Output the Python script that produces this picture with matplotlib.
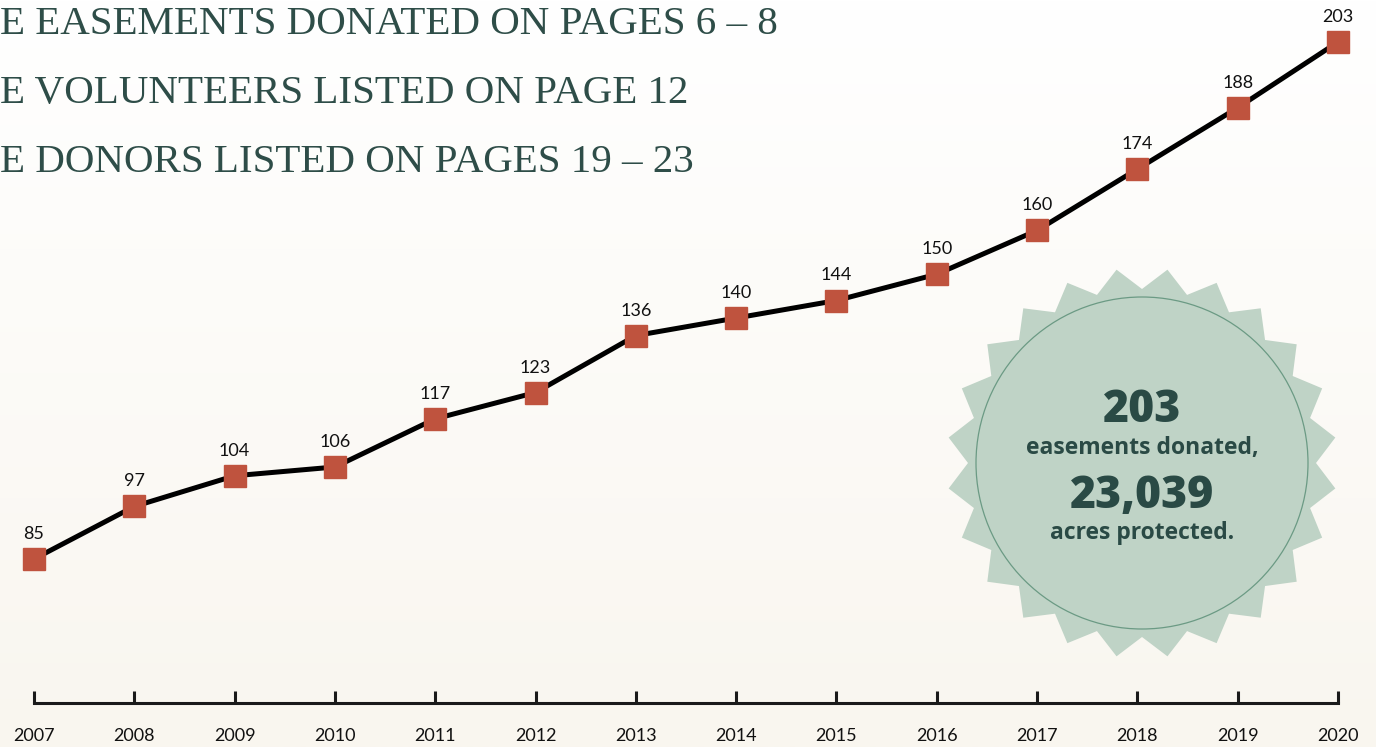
import numpy as np
import matplotlib
matplotlib.use("Agg")
import matplotlib.pyplot as plt
from matplotlib.patches import Polygon, Circle

years = [2007, 2008, 2009, 2010, 2011, 2012, 2013, 2014, 2015, 2016, 2017, 2018, 2019, 2020]
easements = [85, 97, 104, 106, 117, 123, 136, 140, 144, 150, 160, 174, 188, 203]
header_lines = ["E EASEMENTS DONATED ON PAGES 6 – 8",
                "E VOLUNTEERS LISTED ON PAGE 12",
                "E DONORS LISTED ON PAGES 19 – 23"]
badge_big1 = "203"
badge_small1 = "easements donated,"
badge_big2 = "23,039"
badge_small2 = "acres protected."

W, H = 1376, 747
fig = plt.figure(figsize=(W / 100, H / 100), dpi=100)

# background gradient
bg = fig.add_axes([0, 0, 1, 1])
bg.set_axis_off()
grad = np.linspace(0, 1, 256).reshape(-1, 1)
top = np.array([1.0, 1.0, 1.0])
bot = np.array([0xf9, 0xf6, 0xef]) / 255
img = top + (bot - top) * grad[..., None]
bg.imshow(img, aspect="auto", extent=[0, 1, 0, 1], origin="upper")
bg.set_xlim(0, 1)
bg.set_ylim(0, 1)

# main axes: bottom spine at y px 703
px_per_year = (1338 - 34) / 13
ax = fig.add_axes([0, (H - 703) / H, 1, 703 / H])
ax.patch.set_alpha(0)
ax.set_xlim(2007 - 34 / px_per_year, 2020 + (W - 1338) / px_per_year)
px_per_unit = (559 - 42) / (203 - 85)
ax.set_ylim(85 - (703 - 559) / px_per_unit, 85 + 559 / px_per_unit)

for s in ["top", "left", "right"]:
    ax.spines[s].set_visible(False)
ax.spines["bottom"].set_linewidth(2.2)
ax.spines["bottom"].set_color("#1a1a1a")
ax.spines["bottom"].set_bounds(years[0], years[-1])
ax.set_yticks([])
ax.set_xticks(years)
ax.set_xticklabels([str(y) for y in years], fontfamily="Lato", fontsize=13, color="#111111")
ax.tick_params(axis="x", direction="in", length=9, width=2.2, color="#1a1a1a", pad=18)

ax.plot(years, easements, color="black", lw=3.6, zorder=3, solid_capstyle="butt",
        marker="s", markersize=15.5, markerfacecolor="#bf533e", markeredgecolor="#bf533e")
for x, v in zip(years, easements):
    ax.annotate(str(v), (x, v), xytext=(0, 18), textcoords="offset points",
                ha="center", va="center", fontfamily="Lato", fontsize=13, color="#111111", zorder=4)

# header text
for i, line in enumerate(header_lines):
    fig.text(0, 1 - [24, 94, 163][i] / H, line, ha="left", va="center",
             fontfamily="Liberation Serif", fontsize=29.5, color="#2e4d48")

# badge (in pixel-based axes)
bx = fig.add_axes([0, 0, 1, 1])
bx.set_axis_off()
bx.patch.set_alpha(0)
bx.set_xlim(0, W)
bx.set_ylim(H, 0)
cx, cy = 1142, 463
n = 24
ro, ri = 195, 174
pts = []
for k in range(2 * n):
    ang = np.deg2rad(-90 + 7.5 + k * 180 / n)
    r = ro if k % 2 == 0 else ri
    pts.append((cx + r * np.cos(ang), cy + r * np.sin(ang)))
bx.add_patch(Polygon(pts, closed=True, facecolor="#bfd3c6", edgecolor="none"))
bx.add_patch(Circle((cx, cy), 166, facecolor="none", edgecolor="#6b9a84", lw=0.9))
tc = "#2a4a45"
bx.text(cx, 410, badge_big1, ha="center", va="center", fontfamily="Open Sans", fontweight="heavy",
        fontsize=32, color=tc)
bx.text(cx, 448, badge_small1, ha="center", va="center", fontfamily="Open Sans", fontweight="bold",
        fontsize=16.5, color=tc)
bx.text(cx, 496, badge_big2, ha="center", va="center", fontfamily="Open Sans", fontweight="heavy",
        fontsize=32, color=tc)
bx.text(cx, 533, badge_small2, ha="center", va="center", fontfamily="Open Sans", fontweight="bold",
        fontsize=16.5, color=tc)

fig.savefig("out.png", dpi=100)
